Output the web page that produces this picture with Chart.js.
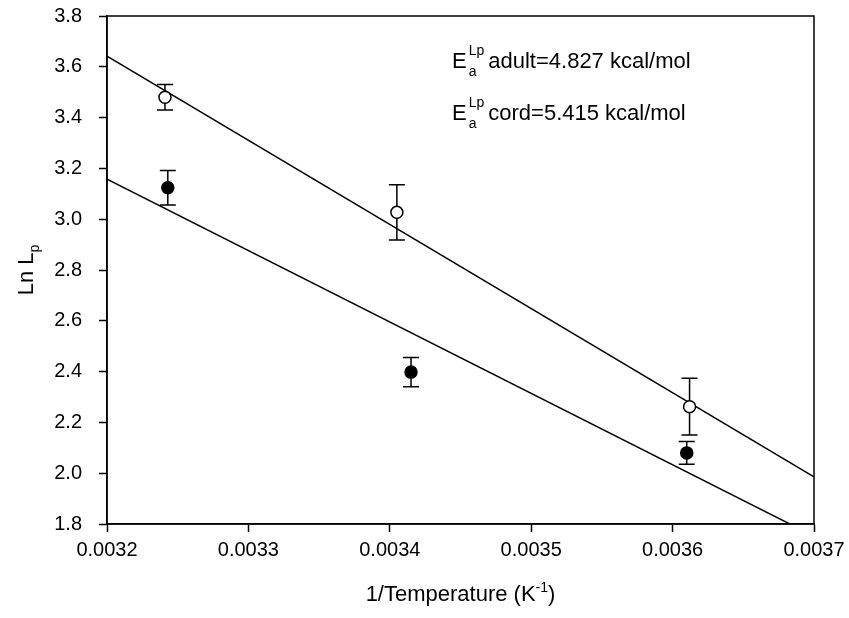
<!DOCTYPE html>
<html>
<head>
<meta charset="utf-8">
<script src="https://cdn.jsdelivr.net/npm/chart.js@4.4.1/dist/chart.umd.min.js"></script>
<style>
  html, body { margin: 0; padding: 0; background: #fff; }
  #wrap { width: 849px; height: 618px; }
</style>
</head>
<body>
<div id="wrap"><canvas id="chart" width="849" height="618"></canvas></div>
<script>
// Tick values
const xTickVals = [0.0032, 0.0033, 0.0034, 0.0035, 0.0036, 0.0037];
const yTickVals = [1.8, 2.0, 2.2, 2.4, 2.6, 2.8, 3.0, 3.2, 3.4, 3.6, 3.8];

// Adult (open circles)
const adultX = [0.003241, 0.003405, 0.003612];
const adultY = [3.48, 3.027, 2.262];
const adultErr = [0.050, 0.109, 0.112];

// Cord (filled circles)
const cordX = [0.003243, 0.003415, 0.003610];
const cordY = [3.124, 2.398, 2.080];
const cordErr = [0.068, 0.058, 0.045];

// Fitted lines
const fitX = [0.0032, 0.0037];
const adultFitY = [3.642, 1.986];
const cordFitY = [3.158, 1.752];

// Annotation text
const annotLines = [
  { label: 'adult', value: '4.827' },
  { label: 'cord', value: '5.415' }
];

const FONT = '"Liberation Sans", Arial, sans-serif';

const toPts = (xs, ys) => xs.map((x, i) => ({ x: x, y: ys[i] }));

// draws text pieces one after another, each with its own size and baseline shift
function drawRuns(ctx, runs, x, y, align) {
  let total = 0;
  runs.forEach(r => {
    ctx.font = r.size + 'px ' + FONT;
    r.w = ctx.measureText(r.t).width;
    total += r.w;
  });
  let cx = align === 'center' ? x - total / 2 : x;
  ctx.textAlign = 'left';
  ctx.textBaseline = 'alphabetic';
  runs.forEach(r => {
    ctx.font = r.size + 'px ' + FONT;
    ctx.fillText(r.t, cx, y + (r.dy || 0));
    cx += r.w;
  });
}

// keep the plot box where it is in the figure, labels may overhang
function noPad(s) {
  s.paddingTop = 0; s.paddingBottom = 0;
  s.paddingLeft = 0; s.paddingRight = 0;
}

const errorBars = {
  id: 'errorBars',
  beforeDatasetsDraw(chart) {
    const ctx = chart.ctx;
    const xs = chart.scales.x, ys = chart.scales.y;
    const sets = [[adultX, adultY, adultErr], [cordX, cordY, cordErr]];
    ctx.save();
    ctx.strokeStyle = '#000';
    ctx.lineWidth = 1.5;
    sets.forEach(([X, Y, E]) => {
      X.forEach((xv, i) => {
        const px = xs.getPixelForValue(xv);
        const top = ys.getPixelForValue(Y[i] + E[i]);
        const bot = ys.getPixelForValue(Y[i] - E[i]);
        ctx.beginPath();
        ctx.moveTo(px, top); ctx.lineTo(px, bot);
        ctx.moveTo(px - 8, top); ctx.lineTo(px + 8, top);
        ctx.moveTo(px - 8, bot); ctx.lineTo(px + 8, bot);
        ctx.stroke();
      });
    });
    ctx.restore();
  }
};

const extras = {
  id: 'extras',
  afterDraw(chart) {
    const ctx = chart.ctx, a = chart.chartArea;
    ctx.save();
    // frame
    ctx.strokeStyle = '#000';
    ctx.lineWidth = 1.5;
    ctx.strokeRect(a.left, a.top, a.right - a.left, a.bottom - a.top);

    ctx.fillStyle = '#000';
    // x title
    drawRuns(ctx, [
      { t: '1/Temperature (K', size: 22 },
      { t: '-1', size: 14, dy: -9 },
      { t: ')', size: 22 }
    ], (a.left + a.right) / 2, 601, 'center');

    // y title
    ctx.save();
    ctx.translate(33, 270);
    ctx.rotate(-Math.PI / 2);
    drawRuns(ctx, [
      { t: 'Ln L', size: 22 },
      { t: 'p', size: 14, dy: 6 }
    ], 0, 0, 'center');
    ctx.restore();

    // activation energy notes
    const ex = 452;
    annotLines.forEach((ln, i) => {
      const base = 68 + i * 52;
      ctx.textAlign = 'left';
      ctx.font = '22px ' + FONT;
      ctx.fillText('E', ex, base);
      const ew = ctx.measureText('E').width;
      ctx.font = '14px ' + FONT;
      ctx.fillText('Lp', ex + ew + 2, base - 13);
      ctx.fillText('a', ex + ew + 2, base + 8);
      const sw = ctx.measureText('Lp').width;
      ctx.font = '22px ' + FONT;
      ctx.fillText(ln.label + '=' + ln.value + ' kcal/mol', ex + ew + sw + 6, base);
    });
    ctx.restore();
  }
};

new Chart(document.getElementById('chart'), {
  type: 'scatter',
  data: {
    datasets: [
      {
        label: 'adult fit', data: toPts(fitX, adultFitY), showLine: true,
        borderColor: '#000', borderWidth: 1.5, pointRadius: 0, order: 3
      },
      {
        label: 'cord fit', data: toPts(fitX, cordFitY), showLine: true,
        borderColor: '#000', borderWidth: 1.5, pointRadius: 0, order: 3
      },
      {
        label: 'adult', data: toPts(adultX, adultY), pointStyle: 'circle',
        pointRadius: 6, backgroundColor: '#fff', borderColor: '#000', borderWidth: 1.5, order: 1
      },
      {
        label: 'cord', data: toPts(cordX, cordY), pointStyle: 'circle',
        pointRadius: 6, backgroundColor: '#000', borderColor: '#000', borderWidth: 1.5, order: 1
      }
    ]
  },
  options: {
    responsive: false,
    animation: false,
    devicePixelRatio: 1,
    layout: { padding: { top: 16, right: 35, left: 0, bottom: 0 } },
    plugins: { legend: { display: false }, tooltip: { enabled: false } },
    scales: {
      x: {
        type: 'linear', min: 0.0032, max: 0.0037,
        afterBuildTicks: s => { s.ticks = xTickVals.map(v => ({ value: v })); },
        afterFit: s => { s.height = 94; noPad(s); },
        ticks: {
          color: '#000', font: { family: FONT, size: 20 }, padding: 6,
          maxRotation: 0, autoSkip: false,
          callback: v => v.toFixed(4)
        },
        grid: { drawOnChartArea: false, drawTicks: true, tickLength: 8, tickColor: '#000', tickWidth: 1.5 },
        border: { color: '#000', width: 1.5 }
      },
      y: {
        type: 'linear', min: 1.8, max: 3.8,
        afterBuildTicks: s => { s.ticks = yTickVals.map(v => ({ value: v })); },
        afterFit: s => { s.width = 107; noPad(s); },
        ticks: {
          color: '#000', font: { family: FONT, size: 20 }, padding: 17,
          autoSkip: false,
          callback: v => v.toFixed(1)
        },
        grid: { drawOnChartArea: false, drawTicks: true, tickLength: 8, tickColor: '#000', tickWidth: 1.5 },
        border: { color: '#000', width: 1.5 }
      }
    }
  },
  plugins: [errorBars, extras]
});
</script>
</body>
</html>
